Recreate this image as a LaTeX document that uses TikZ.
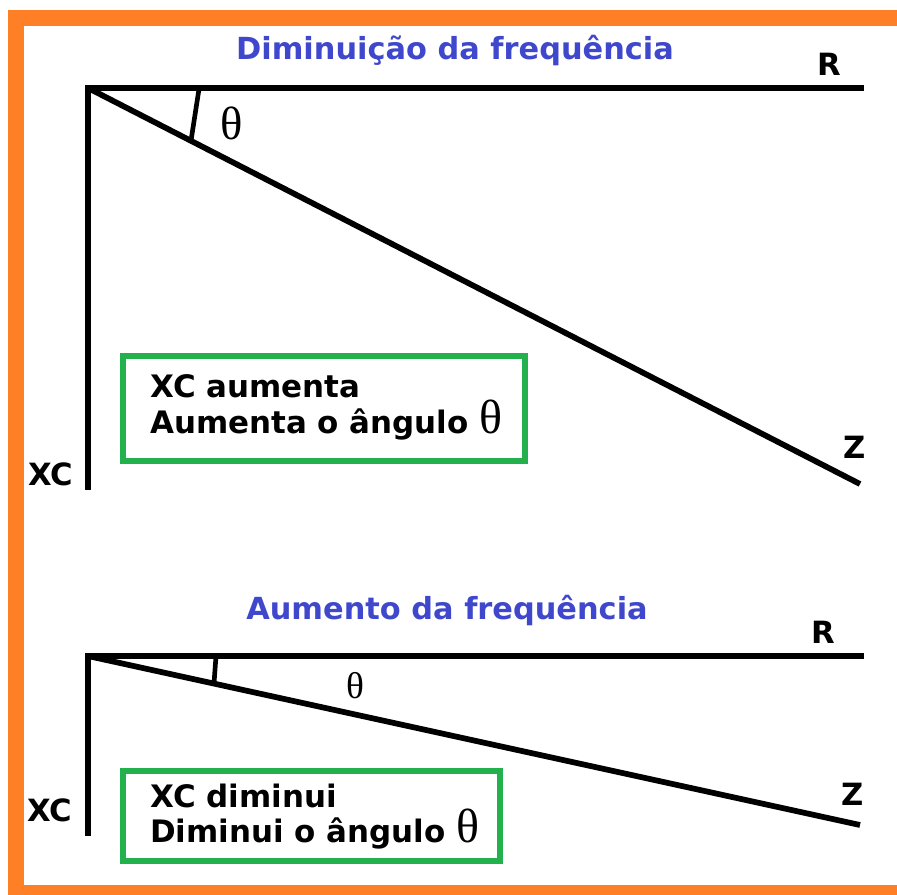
\documentclass[tikz,border=0pt]{standalone}
\usepackage{fontspec}
\usetikzlibrary{calc}
\setmainfont{DejaVu Sans}
\newfontfamily\thfont{Liberation Serif}
\definecolor{frameor}{RGB}{255,127,39}
\definecolor{boxgreen}{RGB}{34,177,76}
\definecolor{titleblue}{RGB}{63,72,204}
\tikzset{
  axis/.style={line width=4.3pt, line cap=rect},
  tick/.style={line width=3.5pt},
  titletext/.style={text=titleblue, font=\fontsize{22.8}{26}\selectfont\bfseries, inner sep=0pt},
  lbl/.style={font=\fontsize{23}{26}\selectfont\bfseries, inner sep=0pt, anchor=base west},
  boxtext/.style={font=\fontsize{23.2}{28}\selectfont\bfseries, inner sep=0pt, anchor=base west},
  greenbox/.style={draw=boxgreen, line width=3.8pt},
  thlabel/.style={font=\fontsize{35}{38}\selectfont\thfont, inner sep=0pt}
}
\begin{document}
\begin{tikzpicture}[x=0.75pt,y=-0.75pt]
\useasboundingbox (0,0) rectangle (897,894);
\begin{scope}
\clip (0,0) rectangle (897,894);
\draw[frameor, line width=12pt] (16,18) rectangle (910,893);
\end{scope}

% ---- top diagram ----
\node[titletext, anchor=base] (t1) at (455,59) {Diminuição da frequência};
\coordinate (o1) at (88,88);
\coordinate (r1) at (861,88);
\coordinate (z1) at (860,484);
\coordinate (x1) at (88,487);
\draw[axis] (x1) -- (o1) -- (r1);
\draw[axis, line cap=butt] (o1) -- (z1);
\coordinate (a1) at ($(o1)!0.1438!(r1)$);
\coordinate (b1) at ($(o1)!0.1334!(z1)$);
\draw[tick] (a1) -- (b1);
\node[thlabel] (th1) at (232,123) {θ};
\node[lbl] (R1) at (817,75) {R};
\node[lbl] (Z1) at (843,458) {Z};
\node[lbl] (XC1) at (28,485) {XC};
\draw[greenbox] (123,356) rectangle (525,461);
\node[boxtext] (b1a) at (150,397) {XC aumenta};
\node[boxtext] (b1b) at (150,433) {Aumenta o ângulo \raisebox{-0.5pt}{\fontsize{36}{38}\selectfont\mdseries\thfont θ}};

% ---- bottom diagram ----
\node[titletext, anchor=base] (t2) at (447,619) {Aumento da frequência};
\coordinate (o2) at (88,656);
\coordinate (r2) at (861,656);
\coordinate (z2) at (860,825);
\coordinate (x2) at (88,833);
\draw[axis] (x2) -- (o2) -- (r2);
\draw[axis, line cap=butt] (o2) -- (z2);
\coordinate (a2) at ($(o2)!0.1656!(r2)$);
\coordinate (b2) at ($(o2)!0.1632!(z2)$);
\draw[tick] (a2) -- (b2);
\node[thlabel, font=\fontsize{28}{30}\selectfont\thfont] (th2) at (355,686) {θ};
\node[lbl] (R2) at (811,643) {R};
\node[lbl] (Z2) at (841,805) {Z};
\node[lbl] (XC2) at (27,821) {XC};
\draw[greenbox] (123,771) rectangle (500,861);
\node[boxtext] (b2a) at (150,807) {XC diminui};
\node[boxtext] (b2b) at (150,842) {Diminui o ângulo \raisebox{-0.5pt}{\fontsize{36}{38}\selectfont\mdseries\thfont θ}};
\end{tikzpicture}
\end{document}
